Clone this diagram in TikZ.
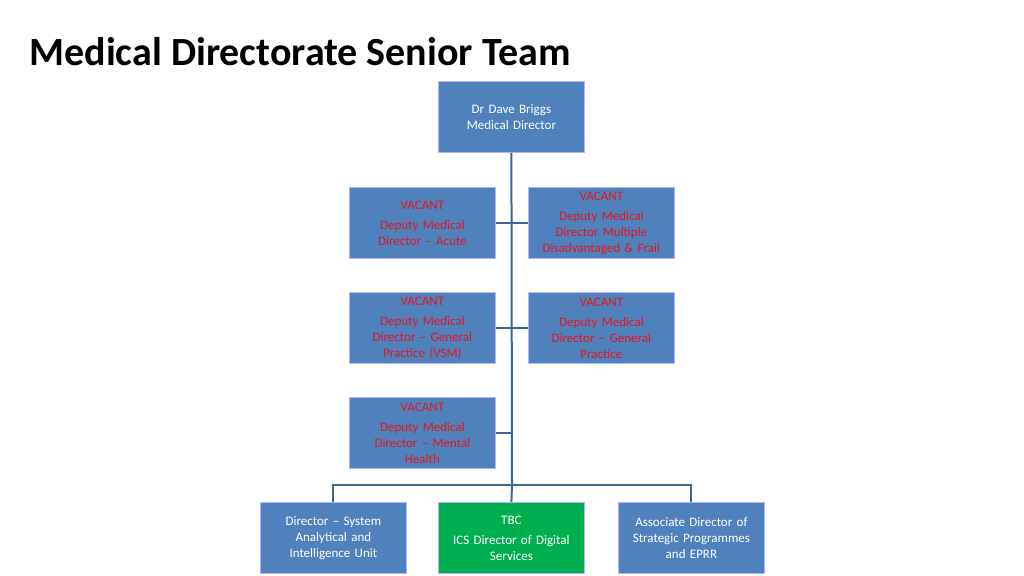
\documentclass[tikz,border=0pt]{standalone}
\usepackage{fontspec}
\setmainfont{Carlito}
\begin{document}
\begin{tikzpicture}[x=1pt,y=-1pt,
  box/.style={draw=white!70!blue,line width=0.8pt,fill=blueF,minimum width=146pt,minimum height=71pt,anchor=north west,inner sep=2pt,align=center,font=\fontsize{13}{16}\selectfont,text=white,text width=140pt},
  vac/.style={box,text=redT},
  con/.style={draw=lineC,line width=2pt}]
\definecolor{blueF}{HTML}{4F81BD}
\definecolor{lineC}{HTML}{3C6592}
\definecolor{redT}{HTML}{E8151D}
\definecolor{greenF}{HTML}{00B050}
\useasboundingbox (0,0) rectangle (1024,575);
\node[anchor=west,font=\bfseries\fontsize{40}{48}\selectfont] (title) at (26,52) {Medical Directorate Senior Team};
\node[box] (md) at (438,81) {Dr Dave Briggs\\Medical Director\\[14pt]};
\node[vac] (a1) at (349,187) {VACANT\\[4pt]Deputy Medical\\Director -- Acute};
\node[vac] (b1) at (528,187) {VACANT\\[4pt]Deputy Medical\\Director Multiple\\Disadvantaged \& Frail};
\node[vac] (a2) at (349,292) {VACANT\\[4pt]Deputy Medical\\Director -- General\\Practice (VSM)};
\node[vac] (b2) at (528,292) {VACANT\\[4pt]Deputy Medical\\Director -- General\\Practice};
\node[vac] (a3) at (349,397) {VACANT\\[4pt]Deputy Medical\\Director -- Mental\\Health};
\node[box] (c1) at (260,502) {Director -- System\\Analytical and\\Intelligence Unit};
\node[box,fill=greenF] (c2) at (438,502) {TBC\\[4pt]ICS Director of Digital\\Services};
\node[box] (c3) at (618,502) {Associate Director of\\Strategic Programmes\\and EPRR};
\coordinate (t) at (512,485);
\draw[con] (md.south) -- (t);
\draw[con] (a1.east) -- (b1.west);
\draw[con] (a2.east) -- (b2.west);
\draw[con] (a3.east) -- (a3.east -| t);
\draw[con] (c1.north) |- (t) -| (c3.north);
\draw[con] (t) -- (c2.north);
\end{tikzpicture}
\end{document}
